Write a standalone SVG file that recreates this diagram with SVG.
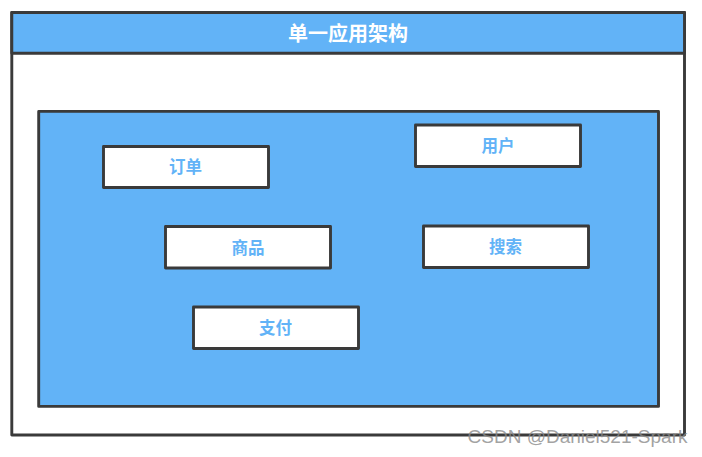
<svg xmlns="http://www.w3.org/2000/svg" width="702" height="457" viewBox="0 0 702 457">
<style>
.f{stroke:#3a3a3a;stroke-width:2.900;stroke-linejoin:round}
.b{fill:#62b3f7}
.w{fill:#fff}
text{font-family:"Noto Sans CJK SC","Liberation Sans",sans-serif;text-anchor:middle;font-weight:700}
.l{font-size:16.500px;fill:#62b3f7}
</style>
<rect width="702" height="457" fill="#fff"/>
<g id="outer">
<rect class="f w" x="11.800" y="12.500" width="672.700" height="422.500"/>
<rect class="f b" x="11.800" y="12.500" width="672.700" height="40.700"/>
<text x="348" y="41" font-size="20" fill="#fff">单一应用架构</text>
</g>
<g id="container"><rect class="f b" x="38.700" y="111.400" width="619.800" height="295"/></g>
<g id="order"><rect class="f w" x="103.500" y="146.500" width="165" height="41"/><text class="l" x="185.500" y="173">订单</text></g>
<g id="user"><rect class="f w" x="415.500" y="125" width="165" height="41.500"/><text class="l" x="498" y="152">用户</text></g>
<g id="product"><rect class="f w" x="165.500" y="226.500" width="165" height="41.500"/><text class="l" x="248" y="254">商品</text></g>
<g id="search"><rect class="f w" x="423.500" y="226" width="165" height="41.500"/><text class="l" x="505.500" y="253">搜索</text></g>
<g id="pay"><rect class="f w" x="193.500" y="307" width="165" height="41.500"/><text class="l" x="275.500" y="334">支付</text></g>
<g id="connectors"/>
<text x="577.500" y="443" font-size="19" fill="#8a8a8a" fill-opacity="0.8" style="font-family:'Liberation Sans',sans-serif;font-weight:400">CSDN @Daniel521-Spark</text>
</svg>
